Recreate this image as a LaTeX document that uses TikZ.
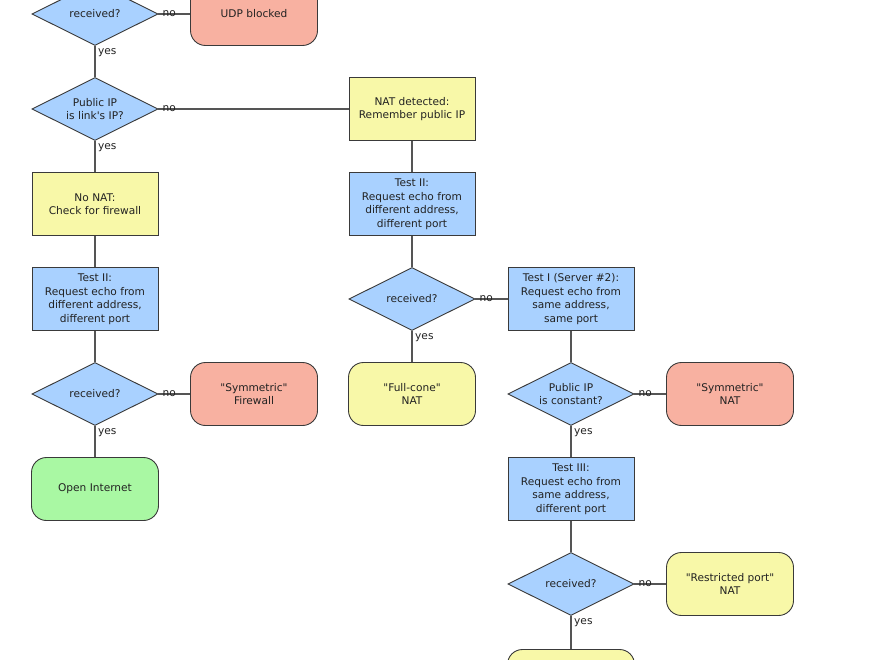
\documentclass[tikz,border=0pt]{standalone}
\usepackage{fontspec}
\setmainfont{DejaVu Sans}
\usetikzlibrary{shapes.geometric}
\definecolor{cblue}{HTML}{A9D1FF}
\definecolor{cyellow}{HTML}{F8F8A8}
\definecolor{cred}{HTML}{F8B1A1}
\definecolor{cgreen}{HTML}{A9F8A3}
\definecolor{cborder}{HTML}{3A3A3A}
\definecolor{cline}{HTML}{555555}
\definecolor{ctext}{HTML}{222222}
\newcommand{\qq}{\textquotedbl}
\tikzset{
  base/.style={draw=cborder, line width=0.9pt, text=ctext, align=center,
    font=\fontsize{10.6}{13.5}\selectfont, inner sep=0pt},
  testbox/.style={base, rectangle, fill=cblue, minimum width=126pt, minimum height=63pt},
  infobox/.style={base, rectangle, fill=cyellow, minimum width=126pt, minimum height=63pt},
  decision/.style={base, diamond, aspect=2, fill=cblue, minimum width=126pt, minimum height=63pt},
  endbox/.style={base, rectangle, rounded corners=15pt, minimum width=127pt, minimum height=63pt},
  conn/.style={draw=cline, line width=1.2pt},
  nolabel/.style={anchor=south west, inner sep=0pt, xshift=4pt, yshift=-3pt, text=ctext, font=\fontsize{10.6}{12}\selectfont},
  yeslabel/.style={anchor=north west, inner sep=0pt, xshift=3pt, yshift=-2pt, text=ctext, font=\fontsize{10.6}{12}\selectfont}
}
\begin{document}
\begin{tikzpicture}[x=1pt, y=-1pt]
\useasboundingbox (0,0) rectangle (880,660);
\clip (0,0) rectangle (880,660);
\fill[white] (0,0) rectangle (880,660);
% column 1
\node[decision] (d0) at (95,14) {received?};
\node[endbox, fill=cred] (udp) at (254,14) {UDP blocked};
\node[decision] (d1) at (95,109) {Public IP\\is link\textquotesingle s IP?};
\node[infobox] (nonat) at (95,204) {No NAT:\\Check for firewall};
\node[testbox] (t2a) at (95,299) {Test II:\\Request echo from\\different address,\\different port};
\node[decision] (d4a) at (95,394) {received?};
\node[endbox, fill=cred] (symfw) at (254,394) {\qq Symmetric\qq\\Firewall};
\node[endbox, fill=cgreen] (open) at (95,489) {Open Internet};
% column 2
\node[infobox] (natdet) at (412,109) {NAT detected:\\Remember public IP};
\node[testbox] (t2b) at (412,204) {Test II:\\Request echo from\\different address,\\different port};
\node[decision] (d3b) at (412,299) {received?};
\node[endbox, fill=cyellow] (full) at (412,394) {\qq Full-cone\qq\\NAT};
% column 3
\node[testbox] (t1) at (571,299) {Test I (Server \#2):\\Request echo from\\same address,\\same port};
\node[decision] (d4c) at (571,394) {Public IP\\is constant?};
\node[endbox, fill=cred] (symnat) at (730,394) {\qq Symmetric\qq\\NAT};
\node[testbox] (t3) at (571,489) {Test III:\\Request echo from\\same address,\\different port};
\node[decision] (d6) at (571,584) {received?};
\node[endbox, fill=cyellow] (rport) at (730,584) {\qq Restricted port\qq\\NAT};
\node[endbox, fill=cyellow] (last) at (571,681) {};
% connectors
\path[conn] (d0.east) -- (udp.west);
\node[nolabel] at (d0.east) {no};
\path[conn] (d0.south) -- (d1.north);
\node[yeslabel] at (d0.south) {yes};
\path[conn] (d1.east) -- (natdet.west);
\node[nolabel] at (d1.east) {no};
\path[conn] (d1.south) -- (nonat.north);
\node[yeslabel] at (d1.south) {yes};
\path[conn] (nonat.south) -- (t2a.north);
\path[conn] (t2a.south) -- (d4a.north);
\path[conn] (d4a.east) -- (symfw.west);
\node[nolabel] at (d4a.east) {no};
\path[conn] (d4a.south) -- (open.north);
\node[yeslabel] at (d4a.south) {yes};
\path[conn] (natdet.south) -- (t2b.north);
\path[conn] (t2b.south) -- (d3b.north);
\path[conn] (d3b.east) -- (t1.west);
\node[nolabel] at (d3b.east) {no};
\path[conn] (d3b.south) -- (full.north);
\node[yeslabel] at (d3b.south) {yes};
\path[conn] (t1.south) -- (d4c.north);
\path[conn] (d4c.east) -- (symnat.west);
\node[nolabel] at (d4c.east) {no};
\path[conn] (d4c.south) -- (t3.north);
\node[yeslabel] at (d4c.south) {yes};
\path[conn] (t3.south) -- (d6.north);
\path[conn] (d6.east) -- (rport.west);
\node[nolabel] at (d6.east) {no};
\path[conn] (d6.south) -- (last.north);
\node[yeslabel] at (d6.south) {yes};
\end{tikzpicture}
\end{document}
